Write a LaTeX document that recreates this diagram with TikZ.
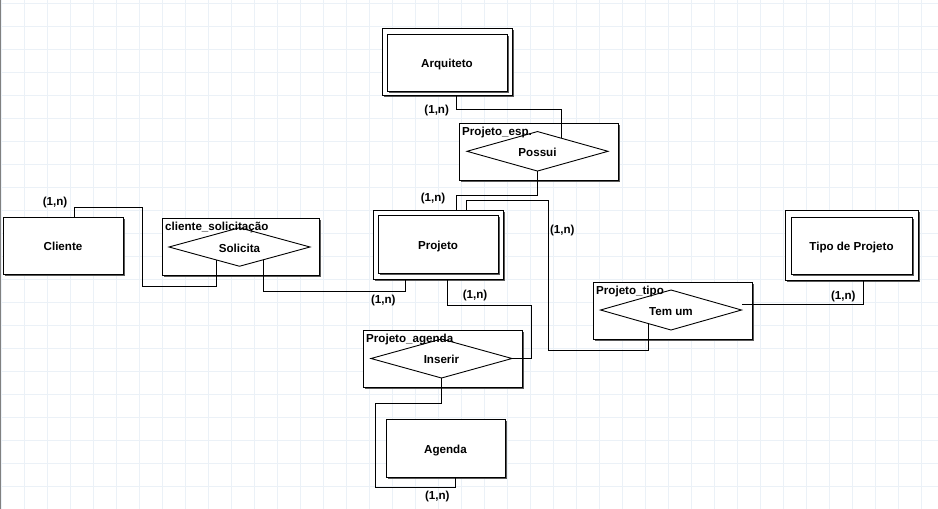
\documentclass[tikz,border=0pt]{standalone}
\usepackage{fontspec}
\setmainfont{Liberation Sans}
\usetikzlibrary{shapes.geometric,shadows}
\definecolor{gridc}{HTML}{EBF1F7}
\begin{document}
\begin{tikzpicture}[x=1pt,y=-1pt,
  font=\bfseries\fontsize{11.6}{13}\selectfont,
  shad/.style={drop shadow={shadow xshift=2.2pt,shadow yshift=-2.2pt,fill=black!65,opacity=1,draw=none}},
  box/.style={draw,fill=white,line width=1pt,inner sep=0pt,outer sep=0pt,anchor=north west,shad,text height=10.8pt,text depth=0pt},
  rel/.style={draw,diamond,shape aspect=3.5,minimum width=141pt,minimum height=39.5pt,inner sep=0pt,outer sep=0pt,line width=0.9pt,text height=10.8pt,text depth=0pt},
  lbl/.style={inner sep=0pt,anchor=base west},
  card/.style={inner sep=0pt},
  conn/.style={line width=1pt}]
\useasboundingbox (0,0) rectangle (938,509);
\fill[white] (0,0) rectangle (938,509);
\foreach \i in {0,...,40} \draw[gridc,line width=1pt] ({1.3+23*\i},0) -- ({1.3+23*\i},509);
\foreach \j in {0,...,22} \draw[gridc,line width=1pt] (0,{3.3+23*\j}) -- (938,{3.3+23*\j});
\fill[black!50] (0,0) rectangle (1.3,509);

% entities
\node[box,minimum width=130pt,minimum height=67pt] (arq) at (382,28) {};
\node[box,minimum width=120pt,minimum height=57pt] (arqi) at (387,34) {Arquiteto};

\node[box,minimum width=130pt,minimum height=69pt] (proj) at (373,210) {};
\node[box,minimum width=120pt,minimum height=58pt] (proji) at (378,215) {Projeto};

\node[box,minimum width=133pt,minimum height=70pt] (tipo) at (785,210) {};
\node[box,minimum width=121pt,minimum height=57pt] (tipoi) at (791,217) {Tipo de Projeto};

\node[box,minimum width=120pt,minimum height=57pt] (cli) at (3,217) {Cliente};
\node[box,minimum width=119pt,minimum height=58pt] (agenda) at (386,419) {Agenda};

% relationship boxes
\node[box,minimum width=159pt,minimum height=57pt] (esp) at (459,123) {};
\node[lbl] (espl) at ([shift={(3,12.3)}]esp.north west) {Projeto\_esp.};
\node[rel] (possui) at (537.5,151.3) {Possui};

\node[box,minimum width=157pt,minimum height=57pt] (csol) at (162,218) {};
\node[lbl] (csoll) at ([shift={(3,12.3)}]csol.north west) {cliente\_solicitação};
\node[rel,minimum height=38.5pt] (sol) at (239.5,247) {Solicita};

\node[box,minimum width=159pt,minimum height=57pt] (ptipo) at (593,282) {};
\node[lbl] (ptipol) at ([shift={(3,12.3)}]ptipo.north west) {Projeto\_tipo};
\node[rel,minimum height=40pt] (temum) at (671,310) {Tem um};

\node[box,minimum width=159pt,minimum height=57pt] (pag) at (363,330) {};
\node[lbl] (pagl) at ([shift={(3,12.3)}]pag.north west) {Projeto\_agenda};
\node[rel,minimum height=39pt] (ins) at (441.5,358.5) {Inserir};

% connectors
\draw[conn] (arq.south -| 456,0) -- (456,109) -| (possui.28);
\draw[conn] (possui.south) -- (537.5,195) -| (proj.north -| 456,0);
\draw[conn] (proj.north -| 466,0) -- (466,200.7) -| (548,350) -| (temum.211);
\coordinate (tend) at (temum.east |- 0,304);
\draw[conn] (tipo.south -| 863,0) |- (tend);
\draw[conn] (cli.north -| 74,0) -- (74,207.7) -| (142.7,286) -| (sol.210);
\draw[conn] (sol.332) |- (405.3,291) -- (proj.south -| 405.3,0);
\draw[conn] (proj.south -| 447.3,0) |- (531.7,305.7) |- (ins.east);
\draw[conn] (ins.south) |- (375.7,403.3) |- (455.7,487.3) -- (agenda.south -| 455.7,0);

% cardinalities
\node[card] (c1) at (436.7,110.7) {(1,n)};
\node[card] (c2) at (433,198.3) {(1,n)};
\node[card] (c3) at (562.3,230.7) {(1,n)};
\node[card] (c4) at (843.3,296.7) {(1,n)};
\node[card] (c5) at (55,202.3) {(1,n)};
\node[card] (c6) at (383.3,300.7) {(1,n)};
\node[card] (c7) at (475,295) {(1,n)};
\node[card] (c8) at (437.3,496) {(1,n)};
\end{tikzpicture}
\end{document}
